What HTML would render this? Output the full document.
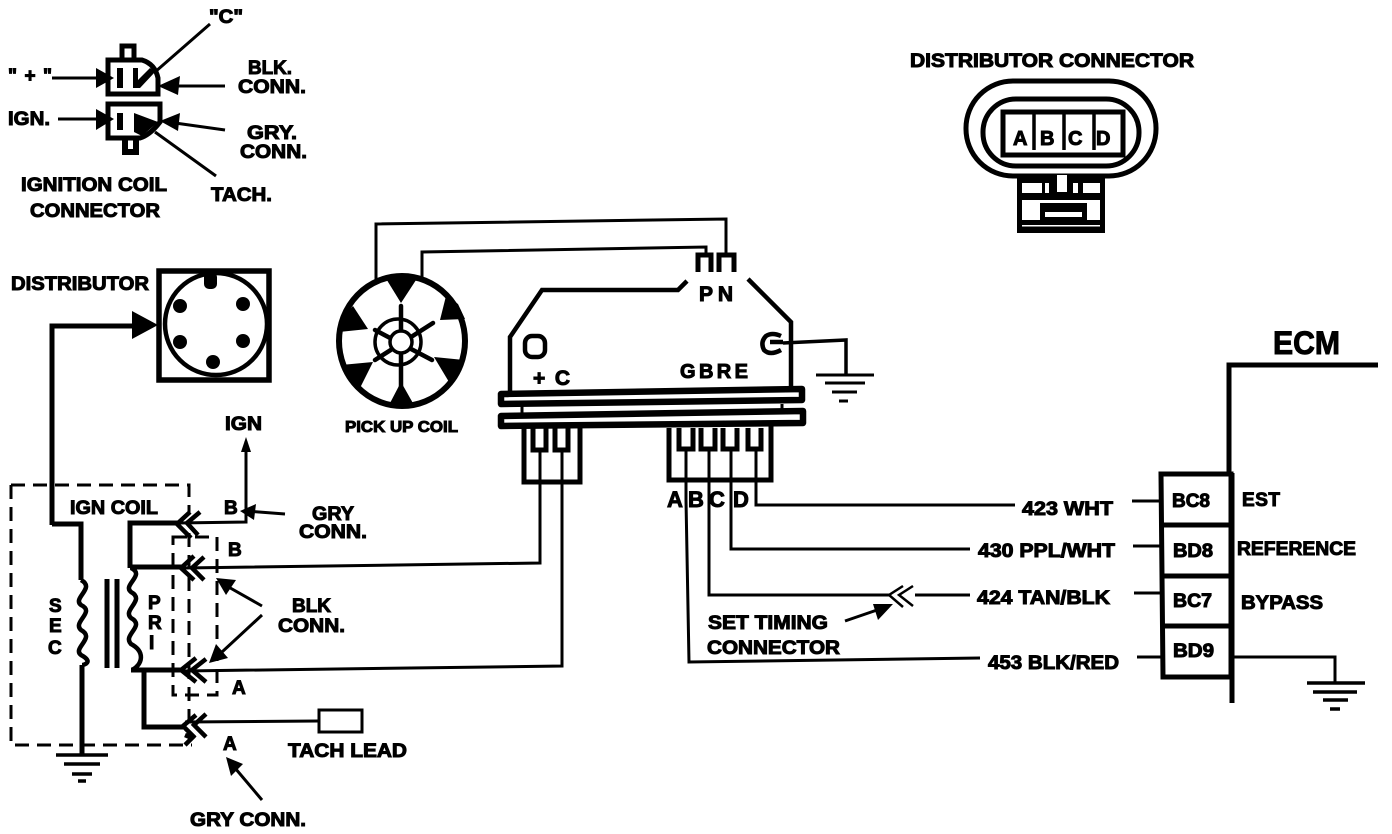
<!DOCTYPE html>
<html><head><meta charset="utf-8"><style>
html,body{margin:0;padding:0;background:#fff}
svg{display:block}
text{font-family:"Liberation Sans",sans-serif;font-weight:bold;fill:#000;stroke:#000;stroke-width:1}
</style></head><body>
<svg width="1392" height="834" viewBox="0 0 1392 834" xmlns="http://www.w3.org/2000/svg">
<rect width="1392" height="834" fill="#fff"/>
<g fill="none" stroke="#000" stroke-linejoin="miter">
<!-- ignition coil connector -->
<path d="M108,60H142Q155,64 158,78V94H108Z" stroke-width="5"/>
<path d="M108,104H160V122Q150,135 140,138H108Z" stroke-width="5"/>
<path d="M122,58V46H134V58" stroke-width="5"/>
<path d="M125,140V152H136V138" stroke-width="6"/>
<path d="M120,68V88M120,113V130" stroke-width="6"/>
<path d="M52,78H100M58,119H100M225,86H170M225,130L175,123M210,24L155,72M216,176L155,132" stroke-width="3"/>
<g fill="#000" stroke="none">
<polygon points="96,68 114,78 96,88"/>
<polygon points="96,109 114,119 96,130"/>
<polygon points="158,86 180,76 178,95"/>
<polygon points="160,121 180,113 178,131"/>
<polygon points="133,68 138,68 138,80 150,68 155,72 140,88 133,88"/>
<polygon points="134,113 158,122 142,136 134,132"/>
</g>
<!-- distributor -->
<rect x="159" y="271" width="110" height="109" stroke-width="5.5"/>
<circle cx="216" cy="324" r="51" stroke-width="4.5"/>
<path d="M52,525V326H135" stroke-width="5"/>
<g fill="#000" stroke="none">
<polygon points="132,311 158,325 132,339"/>
<rect x="204" y="272" width="13" height="17" rx="5"/>
<circle cx="180" cy="306" r="7"/><circle cx="243" cy="304" r="7"/>
<circle cx="180" cy="342" r="7"/><circle cx="243" cy="341" r="7"/><circle cx="213" cy="362" r="7"/>
</g>
<!-- pickup coil -->
<ellipse cx="402" cy="341" rx="63" ry="65" stroke-width="6"/>
<path d="M376,283V224L726,219V256M422,281V252L706,247V256" stroke-width="3"/>
<path d="M698,272V255H711V272M719,272V255H734V272" stroke-width="5"/>
<g fill="#000" stroke="none">
<polygon points="385,277 418,277 401,303"/>
<polygon points="353,306 342,318 339,332 368,329"/>
<polygon points="446,296 440,320 465,319 458,304"/>
<polygon points="434,357 449,382 458,372 464,360"/>
<polygon points="373,362 341,365 347,378 360,388"/>
<polygon points="401,382 389,405 414,405"/>
</g>
<path d="M401,306V390M375,330L432,360M375,360L433,323" stroke-width="4.5" stroke-linecap="round"/>
<ellipse cx="398" cy="342" rx="23" ry="23" stroke-width="3.5"/>
<circle cx="401" cy="342" r="11" fill="#fff" stroke-width="3.5"/>
<!-- module -->
<path d="M687,281L678,290H542L510,337V392M748,279L791,322V390" stroke-width="4.5"/>
<rect x="525" y="336" width="20" height="21" rx="7" stroke-width="4.5"/>
<path d="M781,336Q772,332 766,336Q760,342 764,350Q770,356 781,350M770,342H783" stroke-width="4.5"/>
<path d="M783,343L846,340V375" stroke-width="3.5"/>
<path d="M816,375H874" stroke-width="3"/><path d="M825,383H865" stroke-width="3"/><path d="M832,392H857" stroke-width="3"/><path d="M839,401H848" stroke-width="3"/>
<path d="M501,394L802,389V400L501,404Z" fill="#fff" stroke-width="6.5" stroke-linejoin="round"/>
<path d="M501,416L803,411V423L501,426Z" fill="#fff" stroke-width="6.5" stroke-linejoin="round"/>
<path d="M522,406V414M782,404V410" stroke-width="3"/>
<path d="M524,428V482H580V428" stroke-width="5"/>
<path d="M533,428V450H546V428M555,428V450H568V428" stroke-width="5"/>
<path d="M669,428V480H771V426" stroke-width="5"/>
<path d="M679,428V449H693V428M701,428V449H715V428M723,428V449H737V428M748,428V449H761V428" stroke-width="5"/>
<path d="M540,449V563L184,568M562,449V666L184,671" stroke-width="3"/>
<path d="M686,448V500L689,662L980,658M709,448V595H890M731,448V549H970M756,448V505H1015" stroke-width="3"/>
<path d="M915,595H970" stroke-width="3"/>
<!-- coil -->
<path d="M11,485H189V514" stroke-width="3" stroke-dasharray="14 8"/>
<path d="M11,485V745H192" stroke-width="3" stroke-dasharray="14 8"/>
<path d="M173,537H217V695H173Z" stroke-width="3" stroke-dasharray="14 8"/>
<path d="M189,533V730" stroke-width="3" stroke-dasharray="14 8"/>
<path d="M52,524H81V580" stroke-width="5"/>
<path d="M81,580C96,588 72,598 81,605C96,612 72,622 81,630C96,638 72,648 81,655C94,662 84,665 82,665" stroke-width="4.5"/>
<path d="M82,665V755" stroke-width="5"/>
<path d="M56,755H108" stroke-width="3.5"/><path d="M64,764H100" stroke-width="3.5"/><path d="M72,774H92" stroke-width="3.5"/><path d="M78,781H86" stroke-width="3.5"/>
<path d="M107,579V668M117,579V668" stroke-width="5"/>
<path d="M178,523H130V568M184,567H130" stroke-width="5"/>
<path d="M131,568C146,575 122,585 131,592C146,600 122,610 131,618C146,626 122,635 131,644C146,652 142,665 132,670" stroke-width="4.5"/>
<path d="M131,670H184M144,670V727H183" stroke-width="5"/>
<path d="M178,523L246,522V441M185,722L318,721" stroke-width="3"/>
<rect x="319" y="710" width="43" height="22" stroke-width="3"/>
<!-- chevrons -->
<path d="M190,512L177,524L191,538M200,512L187,523L198,535" stroke-width="4.5"/>
<path d="M194,556L181,568L194,580M204,557L192,568L204,580" stroke-width="4.5"/>
<path d="M196,658L181,670L196,682M206,659L192,670L206,682" stroke-width="4.5"/>
<path d="M196,715L183,726L195,738M206,714L194,725L206,737M185,735L192,738L185,745" stroke-width="4.5"/>
<path d="M903,586L889,595L903,607M913,586L899,595L913,606" stroke-width="2.5"/>
<!-- pointer arrows -->
<path d="M285,514L245,511M262,606L225,585M262,615L222,652M262,800L235,768M845,621L880,609" stroke-width="3"/>
<g fill="#000" stroke="none">
<polygon points="240,511 256,504 254,520"/>
<polygon points="216,578 236,580 226,595"/>
<polygon points="209,663 216,644 228,658"/>
<polygon points="226,757 243,764 231,776"/>
<polygon points="893,604 873,604 878,620"/>
<polygon points="246,437 241,452 251,452"/>
</g>
<!-- distributor connector -->
<rect x="966" y="81" width="190" height="95" rx="47" ry="47" stroke-width="5"/>
<rect x="983" y="99" width="156" height="67" rx="33" ry="33" stroke-width="5"/>
<rect x="1003" y="112" width="120" height="43" stroke-width="5"/>
<path d="M1034,112V150M1064,112V150M1094,112V150" stroke-width="3.5"/>
<g stroke="none">
<rect x="1017" y="175" width="88" height="58" fill="#000"/>
<rect x="1022" y="183" width="20" height="10" fill="#fff"/>
<rect x="1045" y="183" width="4" height="10" fill="#fff"/>
<rect x="1057" y="175" width="10" height="17" fill="#fff"/>
<rect x="1073" y="183" width="5" height="10" fill="#fff"/>
<rect x="1083" y="183" width="17" height="10" fill="#fff"/>
<rect x="1022" y="200" width="78" height="20" fill="#fff"/>
<rect x="1040" y="203" width="47" height="17" fill="#000"/>
<rect x="1045" y="212" width="37" height="5" fill="#fff"/>
<rect x="1022" y="225" width="78" height="1.5" fill="#fff"/>
</g>
<!-- ECM -->
<path d="M1378,365H1229V473" stroke-width="5"/>
<path d="M1232,473V703" stroke-width="5"/>
<path d="M1161,474H1231V677H1163Z" stroke-width="5"/>
<path d="M1161,525H1231M1161,576H1231M1162,626H1231" stroke-width="5"/>
<path d="M1132,501H1160M1133,546H1160M1134,593H1161M1137,657H1161" stroke-width="3"/>
<path d="M1233,657H1335V682" stroke-width="3"/>
<path d="M1307,683H1365" stroke-width="3.5"/><path d="M1313,692H1357" stroke-width="3.5"/><path d="M1323,700H1348" stroke-width="3.5"/><path d="M1330,709H1340" stroke-width="3.5"/>
</g>
<g font-size="19">
<text x="209" y="23" textLength="34" lengthAdjust="spacingAndGlyphs">"C"</text>
<text x="8" y="82" textLength="44" lengthAdjust="spacing">" + "</text>
<text x="248" y="74" textLength="44" lengthAdjust="spacingAndGlyphs">BLK.</text>
<text x="238" y="93" textLength="68" lengthAdjust="spacingAndGlyphs">CONN.</text>
<text x="8" y="125" textLength="42" lengthAdjust="spacingAndGlyphs">IGN.</text>
<text x="247" y="139" textLength="50" lengthAdjust="spacingAndGlyphs">GRY.</text>
<text x="240" y="158" textLength="67" lengthAdjust="spacingAndGlyphs">CONN.</text>
<text x="21" y="191" textLength="146" lengthAdjust="spacingAndGlyphs">IGNITION COIL</text>
<text x="30" y="217" textLength="130" lengthAdjust="spacingAndGlyphs">CONNECTOR</text>
<text x="211" y="201" textLength="61" lengthAdjust="spacingAndGlyphs">TACH.</text>
<text x="910" y="67" textLength="284" lengthAdjust="spacingAndGlyphs">DISTRIBUTOR  CONNECTOR</text>
<text x="11" y="290" textLength="138" lengthAdjust="spacingAndGlyphs">DISTRIBUTOR</text>
<text x="225" y="430" textLength="37" lengthAdjust="spacingAndGlyphs">IGN</text>
<text x="345" y="432" textLength="113" lengthAdjust="spacingAndGlyphs" font-size="16">PICK UP COIL</text>
<text x="699" y="301" textLength="34" lengthAdjust="spacing" font-size="21">P N</text>
<text x="533" y="385" textLength="37" lengthAdjust="spacing" font-size="21">+ C</text>
<text x="680" y="378" textLength="68" lengthAdjust="spacing" font-size="20">G B R E</text>
<text x="667" y="507" font-size="22">A</text><text x="688" y="507" font-size="22">B</text><text x="709" y="507" font-size="22">C</text><text x="733" y="507" font-size="22">D</text>
<text x="70" y="514" textLength="88" lengthAdjust="spacingAndGlyphs">IGN COIL</text>
<text x="224" y="514" font-size="19">B</text>
<text x="312" y="520" textLength="42" lengthAdjust="spacingAndGlyphs">GRY</text>
<text x="299" y="538" textLength="68" lengthAdjust="spacingAndGlyphs">CONN.</text>
<text x="228" y="556" font-size="19">B</text>
<text x="292" y="612" textLength="39" lengthAdjust="spacingAndGlyphs">BLK</text>
<text x="278" y="632" textLength="67" lengthAdjust="spacingAndGlyphs">CONN.</text>
<text x="232" y="694" font-size="19">A</text>
<text x="223" y="750" font-size="19">A</text>
<text x="288" y="757" textLength="119" lengthAdjust="spacingAndGlyphs">TACH LEAD</text>
<text x="190" y="826" textLength="116" lengthAdjust="spacingAndGlyphs">GRY CONN.</text>
<text x="49" y="612" font-size="19">S</text><text x="49" y="632" font-size="19">E</text><text x="48" y="654" font-size="19">C</text>
<text x="148" y="609" font-size="19">P</text><text x="148" y="629" font-size="19">R</text><text x="149" y="649" font-size="19">I</text>
<text x="1022" y="515" textLength="91" lengthAdjust="spacingAndGlyphs">423 WHT</text>
<text x="978" y="557" textLength="137" lengthAdjust="spacingAndGlyphs">430 PPL/WHT</text>
<text x="977" y="604" textLength="133" lengthAdjust="spacingAndGlyphs">424 TAN/BLK</text>
<text x="988" y="669" textLength="131" lengthAdjust="spacingAndGlyphs">453 BLK/RED</text>
<text x="1172" y="507" textLength="38" lengthAdjust="spacingAndGlyphs">BC8</text>
<text x="1173" y="557" textLength="40" lengthAdjust="spacingAndGlyphs">BD8</text>
<text x="1173" y="607" textLength="39" lengthAdjust="spacingAndGlyphs">BC7</text>
<text x="1173" y="657" textLength="41" lengthAdjust="spacingAndGlyphs">BD9</text>
<text x="1242" y="506" textLength="38" lengthAdjust="spacing">EST</text>
<text x="1237" y="555" textLength="119" lengthAdjust="spacingAndGlyphs">REFERENCE</text>
<text x="1241" y="609" textLength="82" lengthAdjust="spacingAndGlyphs">BYPASS</text>
<text x="708" y="629" textLength="120" lengthAdjust="spacingAndGlyphs">SET TIMING</text>
<text x="707" y="654" textLength="133" lengthAdjust="spacingAndGlyphs">CONNECTOR</text>
<text x="1273" y="354" textLength="67" lengthAdjust="spacingAndGlyphs" font-size="32">ECM</text>
<text x="1013" y="145" font-size="20">A</text><text x="1040" y="145" font-size="20">B</text><text x="1068" y="145" font-size="20">C</text><text x="1096" y="145" font-size="20">D</text>
</g>
</svg>
</body></html>
